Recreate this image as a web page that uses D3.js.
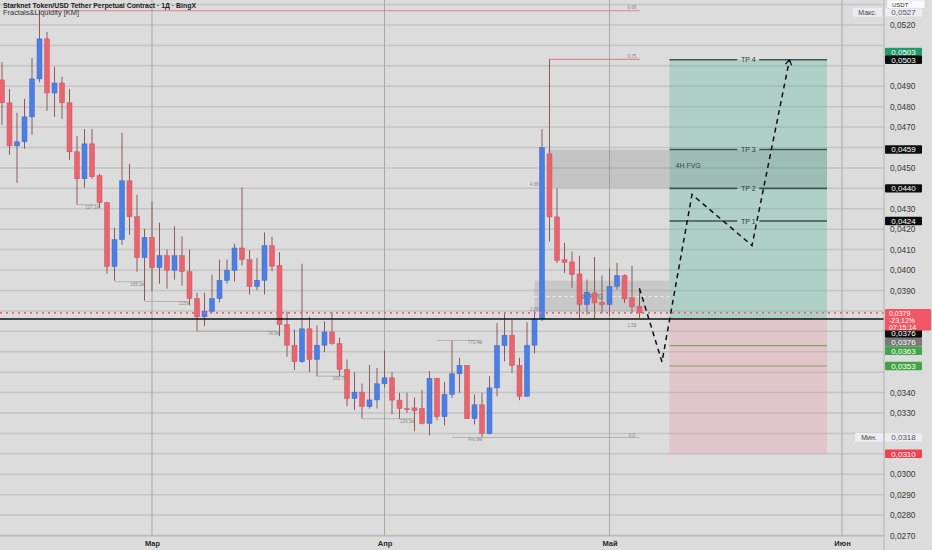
<!DOCTYPE html>
<html><head><meta charset="utf-8">
<script src="https://cdn.jsdelivr.net/npm/d3@7"></script>
<style>
body{margin:0;background:#dcdcdc;}
svg{display:block;font-family:"Liberation Sans",Arial,sans-serif;}
</style>
</head><body>
<svg id="c" width="932" height="550"></svg>
<script>
// ---------------- DATA ----------------
const startDate = "2025-02-09";
const open = [0.04931,0.04819,0.04608,0.04628,0.0475,0.04936,0.05132,0.04867,0.04916,0.04819,
0.04579,0.04447,0.04618,0.04462,0.0433,0.04017,0.04149,0.04437,0.04261,0.04061,
0.0416,0.04012,0.0407,0.03999,0.0407,0.03992,0.0386,0.03771,0.03798,0.0386,
0.0395,0.03999,0.04108,0.04051,0.0392,0.0395,0.04119,0.04022,0.03733,0.03632,
0.03551,0.03712,0.03562,0.03632,0.03697,0.0364,0.03513,0.03371,0.03402,0.03331,
0.03364,0.03443,0.03472,0.03363,0.03321,0.03325,0.03322,0.03249,0.0347,0.03282,
0.03391,0.03492,0.03533,0.03272,0.0334,0.032,0.03423,0.0363,0.03681,0.03533,
0.03382,0.03632,0.03761,0.04569,0.0426,0.04051,0.0404,0.03981,0.03831,0.03888,
0.03842,0.03831,0.0392,0.03973,0.03864,0.03822];
const high = [0.05019,0.04887,0.0477,0.04838,0.05039,0.05273,0.05166,0.04995,0.04946,0.04887,
0.04657,0.04691,0.04691,0.04471,0.04334,0.04207,0.04672,0.0452,0.04369,0.04202,
0.04336,0.04232,0.041,0.04214,0.04165,0.041,0.03889,0.03889,0.03977,0.04051,
0.04051,0.04129,0.04405,0.04097,0.04059,0.04184,0.04163,0.04087,0.03795,0.03709,
0.04031,0.03771,0.0373,0.03749,0.03793,0.03668,0.03562,0.035,0.03444,0.03535,
0.0352,0.03606,0.035,0.03399,0.03399,0.03376,0.03412,0.03505,0.03472,0.03451,
0.03655,0.0357,0.03535,0.0339,0.03399,0.0348,0.03741,0.03793,0.03757,0.0357,
0.03744,0.03798,0.0469,0.05032,0.04401,0.04133,0.04091,0.0407,0.03953,0.04064,
0.03973,0.0401,0.04035,0.03978,0.04021,0.03912];
const low = [0.04711,0.04564,0.04427,0.04594,0.04662,0.0492,0.04779,0.0475,0.0474,0.0454,
0.0432,0.04403,0.04447,0.04305,0.03982,0.03948,0.04124,0.04173,0.03992,0.0385,
0.03896,0.03933,0.03909,0.03953,0.03924,0.03827,0.037,0.03725,0.03792,0.03842,
0.03933,0.03943,0.04022,0.0388,0.03901,0.0388,0.03994,0.03676,0.03575,0.0351,
0.03546,0.035,0.0348,0.03598,0.03635,0.0348,0.03333,0.03314,0.03272,0.03321,
0.03322,0.03425,0.03293,0.03271,0.03301,0.03211,0.03244,0.0319,0.03265,0.0324,
0.03374,0.03399,0.0327,0.03244,0.0318,0.03195,0.03382,0.03553,0.03497,0.03363,
0.0338,0.03591,0.0375,0.0414,0.04035,0.03986,0.03912,0.03757,0.03782,0.03761,
0.0379,0.03774,0.03904,0.03839,0.0379,0.03766];
const close = [0.04819,0.04608,0.04628,0.0475,0.04936,0.05132,0.04867,0.04916,0.04819,0.04579,
0.04447,0.04618,0.04457,0.0433,0.04017,0.04149,0.04437,0.04261,0.04061,0.0416,
0.04012,0.0407,0.03999,0.0407,0.03992,0.0386,0.03771,0.03798,0.0386,0.0395,
0.03999,0.04108,0.04051,0.0392,0.0395,0.04119,0.04019,0.03733,0.03632,0.03551,
0.03712,0.03562,0.03632,0.03697,0.0364,0.03513,0.03371,0.03402,0.03331,0.03364,
0.03443,0.03472,0.03363,0.03321,0.03318,0.03311,0.03249,0.0347,0.03282,0.03391,
0.03492,0.03533,0.03272,0.0334,0.032,0.03423,0.0363,0.03681,0.03533,0.03382,
0.03632,0.03761,0.046,0.0426,0.04047,0.04038,0.03977,0.03831,0.03891,0.03839,
0.03831,0.0392,0.03973,0.03859,0.0382,0.0379];

const priceTicks = [0.0270,0.0280,0.0290,0.0300,0.0310,0.0320,0.0330,0.0340,0.0350,0.0360,0.0370,0.0380,0.0390,0.0400,0.0410,0.0420,0.0430,0.0440,0.0450,0.0460,0.0470,0.0480,0.0490,0.0500,0.0510,0.0520];
const gridExtra = [0.0530];
const monthDates = ["2025-03-01","2025-04-01","2025-05-01","2025-06-01"];
const monthLabels = ["Мар","Апр","Май","Июн"];

const tpNames = ["TP 1","TP 2","TP 3","TP 4"];
const tpPrices = [0.0424,0.0440,0.0459,0.0503];
const entryPrice = 0.0376, stopPrice = 0.0310, lastPrice = 0.0379;
const lastInfo = ["0,0379","-23,12%","07:15:14"];
const slLevels = [0.0363,0.0353];
const boxDays = [89,110];
const fvgUpper = [0.04589,0.04403], fvgUpperDays = [72.8,110];
const fvgLower = [0.03948,0.03798], fvgLowerMid = 0.0387, fvgLowerDays = [71,89];
const projDays = [85,88,92,100,105];
const projPrices = [0.0391,0.0355,0.0437,0.0412,0.0503];
const maxPrice = 0.0527, minPrice = 0.0318;
const topLineDays = [5,85], peakLineDays = [73,85], peakLinePrice = 0.05032;
const minLineDays = [64,85];

const liqLabels = ["127.1м","165.3м","215м","78.0м","165.7м","226.5м","770.4м","Fro.9м"];
const liqPrice  = [0.0432,0.03943,0.03846,0.0370,0.0348,0.03272,0.03655,0.0318];
const liqFrom   = [10,15,19,26,42,48,58,60];
const liqTo     = [13,19,25,37,46,55,64,64];
const tagText  = ["0.68","0.75","4.66","2.66","1.59","0.0"];
const tagDay   = [84,84,71,71,84,84];
const tagPrice = [0.0528,0.0504,0.0441,0.0380,0.0372,0.0318];

// ---------------- SCALES ----------------
const W = 932, H = 550, plotR = 884, plotB = 536;
const svg = d3.select("#c");
const t0 = d3.utcParse("%Y-%m-%d")(startDate);
const dayDate = i => new Date(t0.getTime() + i*86400000);
const x = d3.scaleUtc().domain([t0, d3.utcParse("%Y-%m-%d")("2025-06-01")]).range([2, 842]);
const xi = i => x(dayDate(i));
const y = d3.scaleLinear().domain([0.0270, 0.0520]).range([535.5, 25]);
const fmt = d => d3.format(".4f")(d).replace(".", ",");

svg.append("rect").attr("width",W).attr("height",H).attr("fill","#dcdcdc");

// grid
const g = svg.append("g");
g.selectAll(".hg").data(priceTicks.concat(gridExtra)).join("line")
  .attr("x1",0).attr("x2",plotR).attr("y1",d=>y(d)).attr("y2",d=>y(d))
  .attr("stroke","#c4c4c4").attr("stroke-width",1.5);
g.selectAll(".vg").data(monthDates).join("line")
  .attr("x1",d=>x(new Date(d))).attr("x2",d=>x(new Date(d)))
  .attr("y1",0).attr("y2",plotB).attr("stroke","#a9a9a9").attr("stroke-width",1);

// FVG boxes
svg.append("rect").attr("x",xi(fvgUpperDays[0])).attr("width",xi(fvgUpperDays[1])-xi(fvgUpperDays[0]))
  .attr("y",y(fvgUpper[0])).attr("height",y(fvgUpper[1])-y(fvgUpper[0])).attr("fill","rgba(120,120,120,0.24)");
svg.append("rect").attr("x",xi(fvgLowerDays[0])).attr("width",xi(fvgLowerDays[1])-xi(fvgLowerDays[0]))
  .attr("y",y(fvgLower[0])).attr("height",y(fvgLower[1])-y(fvgLower[0])).attr("fill","rgba(120,120,120,0.2)");
svg.append("line").attr("x1",xi(fvgLowerDays[0])).attr("x2",xi(fvgLowerDays[1]))
  .attr("y1",y(fvgLowerMid)).attr("y2",y(fvgLowerMid)).attr("stroke","#eeeeee").attr("stroke-dasharray","3,3").attr("stroke-width",1);

// trade box
const bx0 = xi(boxDays[0]), bx1 = xi(boxDays[1]);
svg.append("rect").attr("x",bx0).attr("width",bx1-bx0).attr("y",y(tpPrices[3])).attr("height",y(entryPrice)-y(tpPrices[3]))
  .attr("fill","rgba(38,166,128,0.24)");
svg.append("rect").attr("x",bx0).attr("width",bx1-bx0).attr("y",y(entryPrice)).attr("height",y(stopPrice)-y(entryPrice))
  .attr("fill","rgba(242,120,140,0.22)");
svg.selectAll(".sl").data(slLevels).join("line")
  .attr("x1",bx0).attr("x2",bx1).attr("y1",d=>y(d)).attr("y2",d=>y(d)).attr("stroke","#86a35c").attr("stroke-width",1.2);
const bxm = (bx0+bx1)/2;
tpPrices.forEach((p,i)=>{
  const yy = y(p);
  svg.append("line").attr("x1",bx0).attr("x2",bxm-11).attr("y1",yy).attr("y2",yy).attr("stroke","#3f5550").attr("stroke-width",1.6);
  svg.append("line").attr("x1",bxm+11).attr("x2",bx1).attr("y1",yy).attr("y2",yy).attr("stroke","#3f5550").attr("stroke-width",1.6);
  svg.append("text").attr("x",bxm).attr("y",yy+2.5).attr("text-anchor","middle").attr("font-size",7)
    .attr("fill","#2d3b38").text(tpNames[i]);
});
svg.append("text").attr("x",xi(fvgLowerDays[1])+6).attr("y",y(0.0451)+2.5).attr("font-size",7).attr("fill","#3a4a46").text("4H FVG");
svg.append("text").attr("x",xi(77)).attr("y",y(fvgLowerMid)+2.5).attr("font-size",6.5).attr("fill","#555").text("4H FVG");

// level lines
svg.append("line").attr("x1",xi(topLineDays[0])).attr("x2",xi(topLineDays[1])).attr("y1",y(maxPrice)).attr("y2",y(maxPrice))
  .attr("stroke","#e0707c").attr("stroke-width",0.8);
svg.append("line").attr("x1",xi(peakLineDays[0])).attr("x2",xi(peakLineDays[1])).attr("y1",y(peakLinePrice)).attr("y2",y(peakLinePrice))
  .attr("stroke","#d8606c").attr("stroke-width",0.8);
svg.append("line").attr("x1",xi(minLineDays[0])).attr("x2",xi(minLineDays[1])).attr("y1",y(minPrice)).attr("y2",y(minPrice))
  .attr("stroke","#9aa89a").attr("stroke-width",0.7);

// liquidity annotations
liqLabels.forEach((t,i)=>{
  svg.append("line").attr("x1",xi(liqFrom[i])).attr("x2",xi(liqTo[i])).attr("y1",y(liqPrice[i])).attr("y2",y(liqPrice[i]))
    .attr("stroke","#9a9a9a").attr("stroke-width",0.6);
  svg.append("text").attr("x",xi(liqTo[i])).attr("y",y(liqPrice[i])+4).attr("text-anchor","end")
    .attr("font-size",4.5).attr("fill","#8a8a8a").text(t);
});
tagText.forEach((t,i)=>{
  svg.append("text").attr("x",xi(tagDay[i])).attr("y",y(tagPrice[i])).attr("text-anchor","middle")
    .attr("font-size",4.5).attr("fill","#8a8a8a").text(t);
});

// candles
const cw = 5;
const cg = svg.append("g");
open.forEach((o,i)=>{
  const c = close[i], up = c >= o, cx = xi(i);
  cg.append("line").attr("x1",cx).attr("x2",cx).attr("y1",y(high[i])).attr("y2",y(low[i]))
    .attr("stroke","#8c5a5e").attr("stroke-width",1);
  const top = y(Math.max(o,c)), bot = y(Math.min(o,c));
  cg.append("rect").attr("x",cx-cw/2).attr("width",cw).attr("y",top).attr("height",Math.max(1,bot-top))
    .attr("fill",up?"#4d7fe3":"#e8646f").attr("stroke",up?"#3c6ad0":"#cc5561").attr("stroke-width",0.5);
});

// current price & entry lines
svg.append("line").attr("x1",0).attr("x2",plotR).attr("y1",y(entryPrice)).attr("y2",y(entryPrice))
  .attr("stroke","#111").attr("stroke-width",1.4);
svg.append("line").attr("x1",0).attr("x2",plotR).attr("y1",y(lastPrice)).attr("y2",y(lastPrice))
  .attr("stroke","#f06478").attr("stroke-width",1.6).attr("stroke-dasharray","2,4");

// projection path
const pts = projDays.map((d,i)=>[xi(d), y(projPrices[i])]);
svg.append("path").attr("d",d3.line()(pts)).attr("fill","none").attr("stroke","#111")
  .attr("stroke-width",1.5).attr("stroke-dasharray","5,4");
const e = pts[pts.length-1], pv = pts[pts.length-2];
const ang = Math.atan2(e[1]-pv[1], e[0]-pv[0]);
[ang+2.6, ang-2.6].forEach(a=>{
  svg.append("line").attr("x1",e[0]).attr("y1",e[1]).attr("x2",e[0]+6*Math.cos(a)).attr("y2",e[1]+6*Math.sin(a))
    .attr("stroke","#111").attr("stroke-width",1.3);
});

// axes areas
svg.append("rect").attr("x",plotR).attr("y",0).attr("width",W-plotR).attr("height",H).attr("fill","#dcdcdc");
svg.append("rect").attr("x",0).attr("y",plotB).attr("width",plotR).attr("height",H-plotB).attr("fill","#dcdcdc");
svg.append("line").attr("x1",plotR).attr("x2",plotR).attr("y1",0).attr("y2",H).attr("stroke","#b3b3b3");
svg.append("line").attr("x1",0).attr("x2",plotR).attr("y1",plotB).attr("y2",plotB).attr("stroke","#b3b3b3");

const badgeDefs = [
  {yc: y(maxPrice)+1.5, t: fmt(maxPrice), bg:"#ececf2", fg:"#555"},
  {yc: y(tpPrices[3])-7.8, t: fmt(tpPrices[3]), bg:"#22996a", fg:"#fff"},
  {yc: y(tpPrices[3]), t: fmt(tpPrices[3]), bg:"#0e0e0e", fg:"#fff"},
  {yc: y(tpPrices[2]), t: fmt(tpPrices[2]), bg:"#0e0e0e", fg:"#fff"},
  {yc: y(tpPrices[1]), t: fmt(tpPrices[1]), bg:"#0e0e0e", fg:"#fff"},
  {yc: y(tpPrices[0]), t: fmt(tpPrices[0]), bg:"#0e0e0e", fg:"#fff"},
  {yc: y(entryPrice)+14.5, t: fmt(entryPrice), bg:"#0e0e0e", fg:"#fff"},
  {yc: y(entryPrice)+23.2, t: fmt(entryPrice), bg:"#7a7a7a", fg:"#fff"},
  {yc: y(slLevels[0])+5.2, t: fmt(slLevels[0]), bg:"#43a447", fg:"#fff"},
  {yc: y(slLevels[1]), t: fmt(slLevels[1]), bg:"#43a447", fg:"#fff"},
  {yc: y(minPrice), t: fmt(minPrice), bg:"#ececf2", fg:"#555"},
  {yc: y(stopPrice), t: fmt(stopPrice), bg:"#f0414f", fg:"#fff"}
];
const ly = y(lastPrice);
const covered = badgeDefs.map(b=>b.yc).concat([ly, ly+7, ly+14]);

const ya = d3.axisRight(y).tickValues(priceTicks).tickFormat(fmt).tickSize(0).tickPadding(6);
const yag = svg.append("g").attr("transform",`translate(${plotR},0)`).call(ya);
yag.select(".domain").remove();
yag.selectAll("text").attr("font-size",8.3).attr("fill","#3a3a3a").attr("font-family","Liberation Sans, Arial, sans-serif");
yag.selectAll(".tick").each(function(d){
  const yy = y(d);
  if (covered.some(c => Math.abs(c-yy) < 8.0)) d3.select(this).remove();
});

const xa = d3.axisBottom(x).tickValues(monthDates.map(d=>new Date(d))).tickFormat((d,i)=>monthLabels[i]).tickSize(0).tickPadding(5);
const xag = svg.append("g").attr("transform",`translate(0,${plotB})`).call(xa);
xag.select(".domain").remove();
xag.selectAll("text").attr("font-size",7.5).attr("font-weight","bold").attr("fill","#2a2a2a").attr("font-family","Liberation Sans, Arial, sans-serif");

badgeDefs.forEach(b=>{
  svg.append("rect").attr("x",plotR+1).attr("y",b.yc-4.2).attr("width",37).attr("height",8.4).attr("fill",b.bg).attr("rx",1);
  svg.append("text").attr("x",plotR+19.5).attr("y",b.yc+2.9).attr("text-anchor","middle").attr("font-size",8).attr("fill",b.fg).text(b.t);
});

svg.append("rect").attr("x",plotR+1).attr("y",ly-4).attr("width",46).attr("height",21.5).attr("fill","#f25563").attr("rx",1);
lastInfo.forEach((t,i)=>{
  svg.append("text").attr("x",plotR+5).attr("y",ly+2.6+i*7).attr("font-size",7).attr("fill","#fff").text(t);
});

svg.append("rect").attr("x",plotR+3).attr("y",0).attr("width",38).attr("height",8.5).attr("fill","#fafafa").attr("stroke","#cfcfcf").attr("stroke-width",0.5);
svg.append("text").attr("x",plotR+8).attr("y",6.5).attr("font-size",6).attr("fill","#333").text("USDT");
svg.append("rect").attr("x",853).attr("y",y(maxPrice)-3).attr("width",29).attr("height",9).attr("fill","#ececf2").attr("rx",1);
svg.append("text").attr("x",867.5).attr("y",y(maxPrice)+4).attr("text-anchor","middle").attr("font-size",7).attr("fill","#444").text("Макс.");
svg.append("rect").attr("x",855).attr("y",y(minPrice)-4.5).attr("width",28).attr("height",9).attr("fill","#ececf2").attr("rx",1);
svg.append("text").attr("x",869).attr("y",y(minPrice)+2.5).attr("text-anchor","middle").attr("font-size",7).attr("fill","#444").text("Мин.");

svg.append("text").attr("x",3).attr("y",8).attr("font-size",6.8).attr("font-weight","bold").attr("fill","#222")
  .attr("textLength",193).attr("lengthAdjust","spacingAndGlyphs")
  .text("Starknet Token/USD Tether Perpetual Contract · 1Д · BingX");
svg.append("text").attr("x",3).attr("y",14.5).attr("font-size",6.3).attr("fill","#333")
  .attr("textLength",76).attr("lengthAdjust","spacingAndGlyphs").text("Fractals&Liquidity [KM]");
</script>
</body></html>
